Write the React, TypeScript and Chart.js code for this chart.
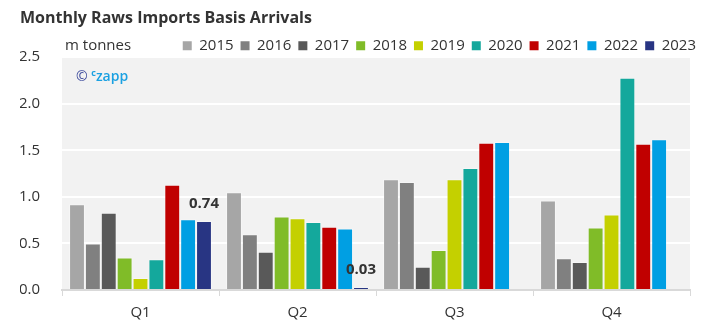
import React, { useEffect, useRef } from 'react';
import { Chart, registerables } from 'chart.js';

Chart.register(...registerables);

const quarters = ['Q1', 'Q2', 'Q3', 'Q4'];
const years = ['2015', '2016', '2017', '2018', '2019', '2020', '2021', '2022', '2023'];
const v2015 = [0.92, 1.05, 1.19, 0.96];
const v2016 = [0.5, 0.6, 1.16, 0.34];
const v2017 = [0.83, 0.41, 0.25, 0.3];
const v2018 = [0.35, 0.79, 0.43, 0.67];
const v2019 = [0.13, 0.77, 1.19, 0.81];
const v2020 = [0.33, 0.73, 1.31, 2.28];
const v2021 = [1.13, 0.68, 1.58, 1.57];
const v2022 = [0.76, 0.66, 1.59, 1.62];
const v2023 = [0.74, 0.03, null, null];
const seriesValues = [v2015, v2016, v2017, v2018, v2019, v2020, v2021, v2022, v2023];
const seriesColors = ['#a6a6a6', '#808080', '#595959', '#80bc28', '#c4d000', '#14a89c', '#c00000', '#009fe3', '#283583'];
const yMin = 0;
const yMax = 2.5;
const yStep = 0.5;
const labelledSeries = '2023';

const FONT = "'Open Sans', 'DejaVu Sans', sans-serif";

const decorPlugin = {
  id: 'decor',
  beforeLayout(chart: any) {
    const lg = chart.legend;
    if (lg && !lg._trimmed) {
      const origFit = lg.fit.bind(lg);
      lg.fit = function () {
        origFit();
        this.height = Math.max(0, this.height - 6);
      };
      lg._trimmed = true;
    }
  },
  afterLayout(chart: any) {
    if (chart.legend) {
      chart.legend.right = chart.width - 13;
    }
  },
  beforeDraw(chart: any) {
    const { ctx, chartArea } = chart;
    ctx.save();
    ctx.fillStyle = '#f2f2f2';
    ctx.fillRect(chartArea.left, chartArea.top, chartArea.right - chartArea.left, chartArea.bottom - chartArea.top);
    ctx.restore();
  },
  afterDraw(chart: any) {
    const { ctx, chartArea } = chart;
    ctx.save();
    // unit label
    ctx.font = `15px ${FONT}`;
    ctx.fillStyle = '#333333';
    ctx.textBaseline = 'middle';
    ctx.textAlign = 'left';
    const hb = chart.legend && chart.legend.legendHitBoxes && chart.legend.legendHitBoxes[0];
    const ly = hb ? hb.top + hb.height / 2 : 45;
    ctx.fillText('m tonnes', chartArea.left + 3, ly);
    // watermark
    const wx = chartArea.left + 14;
    const wy = chartArea.top + 20;
    ctx.font = `14px ${FONT}`;
    ctx.fillStyle = '#3c4a9c';
    ctx.fillText('©', wx, wy);
    const cw = ctx.measureText('© ').width;
    ctx.font = `bold 9px ${FONT}`;
    ctx.fillStyle = '#1ba1e2';
    ctx.fillText('c', wx + cw, wy - 4);
    const sw = ctx.measureText('c').width;
    ctx.font = `600 14px ${FONT}`;
    ctx.fillText('zapp', wx + cw + sw, wy);
    // value labels on last series
    const idx = chart.data.datasets.findIndex((d: any) => d.label === labelledSeries);
    if (idx >= 0) {
      const meta = chart.getDatasetMeta(idx);
      ctx.font = `bold 15px ${FONT}`;
      ctx.fillStyle = '#333333';
      ctx.textAlign = 'center';
      ctx.textBaseline = 'middle';
      meta.data.forEach((bar: any, i: number) => {
        const v = chart.data.datasets[idx].data[i];
        if (v === null || v === undefined) return;
        ctx.fillText(Number(v).toFixed(2), bar.x, bar.y - 17);
      });
    }
    ctx.restore();
  },
};

export default function App() {
  const ref = useRef<HTMLCanvasElement>(null);
  useEffect(() => {
    if (!ref.current) return;
    const chart = new Chart(ref.current, {
      type: 'bar',
      data: {
        labels: quarters,
        datasets: years.map((y, i) => ({
          label: y,
          data: seriesValues[i],
          backgroundColor: seriesColors[i],
          borderColor: 'rgba(255,255,255,0.35)',
          borderWidth: 1,
          categoryPercentage: 0.91,
          barPercentage: 1,
        })),
      },
      options: {
        responsive: false,
        animation: false,
        devicePixelRatio: 1,
        layout: { padding: { left: 20, right: 26, top: 0, bottom: 5 } },
        plugins: {
          title: {
            display: true,
            text: 'Monthly Raws Imports Basis Arrivals',
            align: 'start',
            color: '#333333',
            font: { family: FONT, size: 16, weight: 'bold' },
            padding: { top: 9, bottom: 3 },
          },
          legend: {
            display: true,
            position: 'top',
            align: 'end',
            labels: {
              boxWidth: 9,
              boxHeight: 9,
              padding: 7,
              color: '#333333',
              font: { family: FONT, size: 15 },
              generateLabels(chart: any) {
                const base = Chart.defaults.plugins.legend.labels.generateLabels(chart);
                return base.map((l: any) => ({ ...l, lineWidth: 0, strokeStyle: l.fillStyle }));
              },
            },
          },
          tooltip: { enabled: false },
        },
        scales: {
          x: {
            grid: {
              display: true,
              drawOnChartArea: false,
              drawTicks: true,
              tickLength: 6,
              color: '#d9d9d9',
              offset: true,
            },
            border: { display: true, color: '#d9d9d9', width: 2 },
            ticks: { color: '#333333', font: { family: FONT, size: 15 }, padding: 8 },
          },
          y: {
            min: yMin,
            max: yMax,
            afterFit(axis: any) {
              axis.width = 42;
            },
            grid: { color: '#ffffff', lineWidth: 2, drawTicks: false },
            border: { display: false },
            ticks: {
              stepSize: yStep,
              padding: 22,
              color: '#333333',
              font: { family: FONT, size: 15 },
              callback: (v: any) => Number(v).toFixed(1),
            },
          },
        },
      },
      plugins: [decorPlugin],
    });
    return () => chart.destroy();
  }, []);
  return (
    <div style={{ position: 'absolute', left: 0, top: 0, width: 716, height: 335, background: '#fff' }}>
      <canvas ref={ref} width={716} height={335} style={{ display: 'block' }} />
    </div>
  );
}
